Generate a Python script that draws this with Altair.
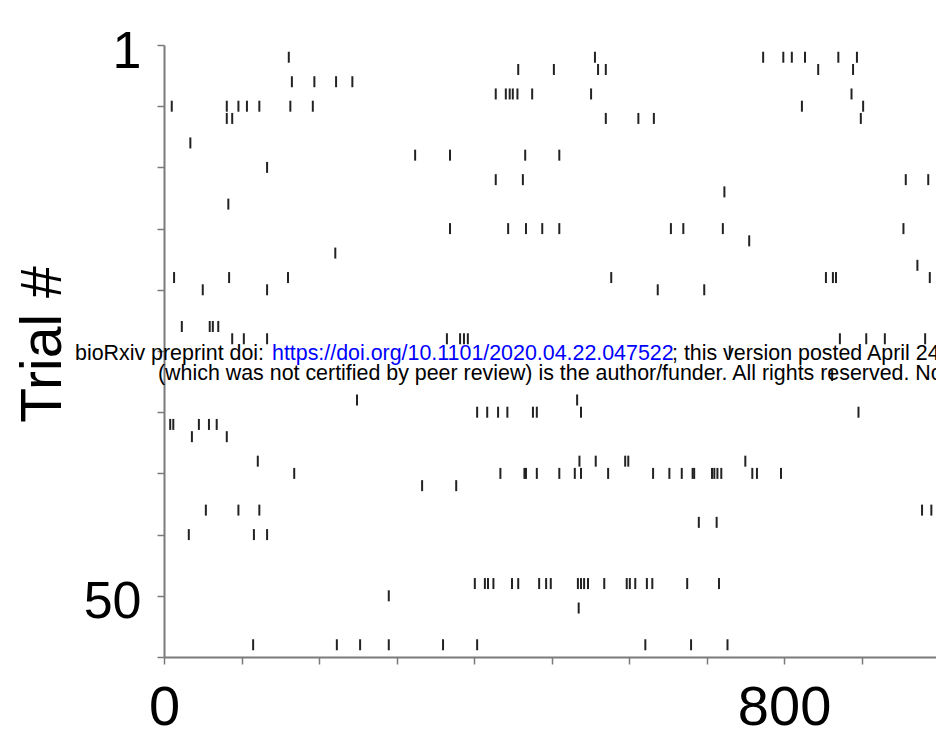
import altair as alt
import pandas as pd

# ---- data ----
trial_numbers = list(range(1, 50))

spike_times_ms = [
    [161, 556, 773, 799, 810, 827, 870, 894],            # 1
    [457, 503, 560, 570, 844, 889],                      # 2
    [165, 194, 222, 243],                                # 3
    [428, 441, 446, 450, 456, 475, 551, 887],            # 4
    [10, 81, 96, 107, 123, 163, 192, 823, 902],          # 5
    [81, 88, 570, 612, 632, 899],                        # 6
    [],                                                  # 7
    [34],                                                # 8
    [324, 369, 466, 510],                                # 9
    [133],                                               # 10
    [428, 463, 957, 986],                                # 11
    [723],                                               # 12
    [83],                                                # 13
    [],                                                  # 14
    [369, 444, 467, 488, 510, 654, 670, 721, 954],       # 15
    [755],                                               # 16
    [221],                                               # 17
    [972],                                               # 18
    [13, 84, 160, 577, 854, 863, 867, 988],              # 19
    [50, 133, 637, 697],                                 # 20
    [],                                                  # 21
    [],                                                  # 22
    [23, 59, 63, 70],                                    # 23
    [88, 103, 133, 365, 382, 387, 392, 872, 906, 930, 982],  # 24
    [730],                                               # 25
    [],                                                  # 26
    [862],                                               # 27
    [],                                                  # 28
    [249, 533],                                          # 29
    [404, 417, 431, 443, 476, 481, 538, 896],            # 30
    [8, 12, 45, 58, 68],                                 # 31
    [36, 81],                                            # 32
    [],                                                  # 33
    [121, 536, 557, 595, 599, 750],                      # 34
    [168, 434, 465, 467, 481, 510, 530, 538, 573, 631, 652, 668,
     682, 684, 707, 710, 714, 719, 759, 765, 796],       # 35
    [333, 377],                                          # 36
    [],                                                  # 37
    [54, 96, 123, 978, 990],                             # 38
    [690, 713],                                          # 39
    [32, 116, 133],                                      # 40
    [],                                                  # 41
    [],                                                  # 42
    [],                                                  # 43
    [401, 414, 418, 425, 449, 457, 484, 493, 499, 534, 538, 542,
     547, 568, 597, 601, 608, 623, 630, 675, 716],       # 44
    [290],                                               # 45
    [535],                                               # 46
    [],                                                  # 47
    [],                                                  # 48
    [115, 223, 253, 290, 360, 404, 621, 680, 727],       # 49
]

x_tick_values = [0, 100, 200, 300, 400, 500, 600, 700, 800, 900]
x_labelled = [0, 800]
y_tick_values = [0, 5, 10, 15, 20, 25, 30, 35, 40, 45, 50]
y_tick_labels = {0: "1", 45: "50"}

watermark_line1a = "bioRxiv preprint doi: "
watermark_url = "https://doi.org/10.1101/2020.04.22.047522"
watermark_line1b = "; this version posted April 24, 2020. The copyright holder for this preprint"
watermark_line2 = ("(which was not certified by peer review) is the author/funder. "
                   "All rights reserved. No reuse allowed without permission.")

rows = []
for trial, times in zip(trial_numbers, spike_times_ms):
    for t in times:
        rows.append({"trial": trial, "time": t})
spikes = pd.DataFrame(rows)

FONT = "Liberation Sans"
AXIS_GRAY = "#7a7a7a"

x_label_expr = " || ".join(f"datum.value == {v}" for v in x_labelled)
y_label_expr = " : ".join(
    f"datum.value == {k} ? '{v}'" for k, v in y_tick_labels.items()
) + " : ''"

raster = alt.Chart(spikes).mark_tick(
    orient="vertical", size=11, thickness=2, color="#222222", opacity=1
).encode(
    x=alt.X(
        "time:Q",
        scale=alt.Scale(domain=[0, 996], nice=False, zero=False),
        axis=alt.Axis(
            values=x_tick_values,
            labelExpr=f"({x_label_expr}) ? datum.label : ''",
            title=None,
            grid=False,
            domainColor=AXIS_GRAY,
            domainWidth=2,
            tickColor=AXIS_GRAY,
            tickWidth=1.5,
            tickSize=7,
            labelFont=FONT,
            labelFontSize=56,
            labelColor="#000000",
            labelPadding=16,
            labelFlush=False,
            labelOverlap=False,
        ),
    ),
    y=alt.Y(
        "trial:Q",
        scale=alt.Scale(domain=[0, 50], reverse=True, nice=False, zero=False),
        axis=alt.Axis(
            values=y_tick_values,
            labelExpr=y_label_expr,
            title="Trial #",
            titleFont=FONT,
            titleFontSize=57,
            titleFontWeight="normal",
            titleColor="#000000",
            titleAngle=270,
            titleBaseline="bottom",
            titleX=-92,
            titleY=299,
            grid=False,
            domainColor=AXIS_GRAY,
            domainWidth=2,
            tickColor=AXIS_GRAY,
            tickWidth=1.5,
            tickSize=7,
            labelFont=FONT,
            labelFontSize=52,
            labelColor="#000000",
            labelPadding=16,
            labelOffset=6,
            labelFlush=False,
            labelOverlap=False,
        ),
    ),
)


def text_layer(txt, x, y, color):
    return alt.Chart(pd.DataFrame({"t": [txt]})).mark_text(
        font=FONT, fontSize=21.4, align="left", baseline="alphabetic", color=color
    ).encode(text="t:N", x=alt.value(x), y=alt.value(y))


chart = alt.layer(
    raster,
    text_layer(watermark_line1a, -89, 315, "#000000"),
    text_layer(watermark_url, 108, 315, "#0000ff"),
    text_layer(watermark_line1b, 508, 315, "#000000"),
    text_layer(watermark_line2, -6, 335, "#000000"),
).properties(
    width=772,
    height=612,
    autosize=alt.AutoSizeParams(type="none"),
    padding={"left": 164, "top": 45, "right": 0, "bottom": 75},
    background="#ffffff",
).configure_view(strokeWidth=0)

chart.save("out.html", embed_options={"renderer": "svg", "actions": False})
